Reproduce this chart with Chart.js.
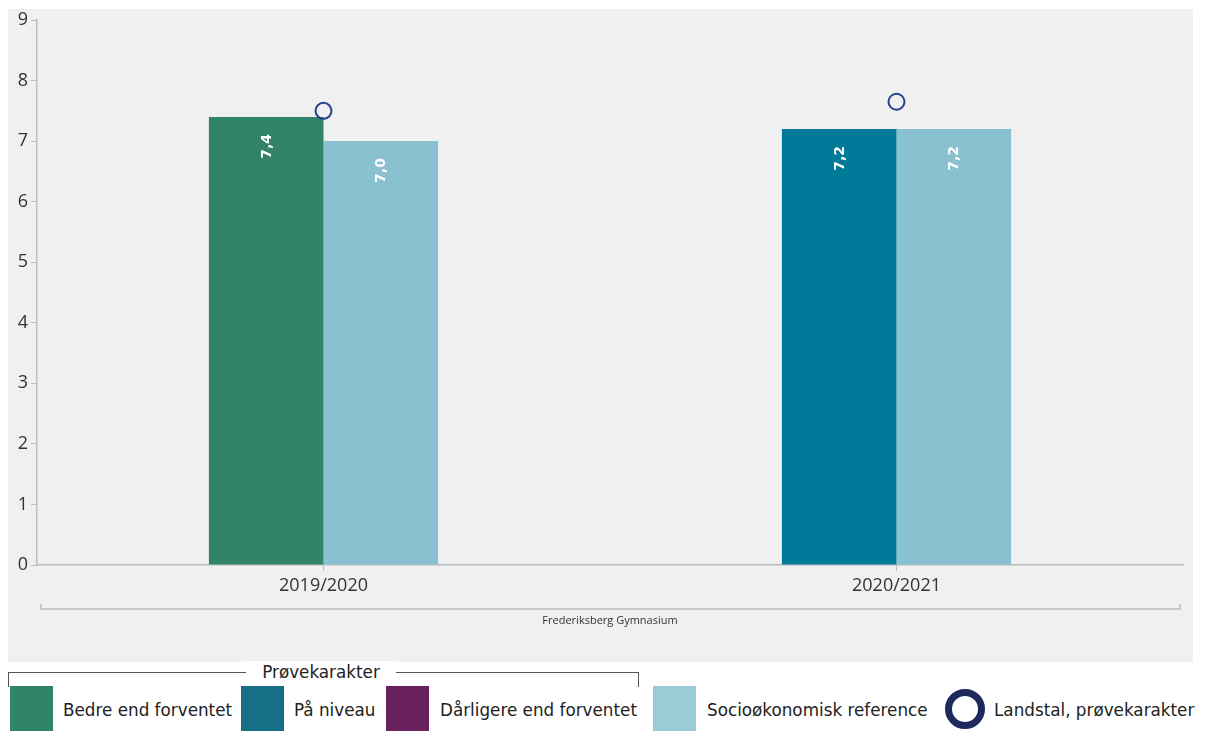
<!DOCTYPE html>
<html>
<head>
<meta charset="utf-8">
<script src="https://cdn.jsdelivr.net/npm/chart.js@4.4.1/dist/chart.umd.min.js"></script>
<style>
  body { margin: 0; background: #fff; width: 1209px; height: 731px; overflow: hidden; position: relative; font-family: "DejaVu Sans", Verdana, sans-serif; }
  #wrap { position: absolute; left: 0; top: 0; width: 1209px; height: 662px; }
  .box { position: absolute; top: 686px; width: 43px; height: 45px; }
  .txt { position: absolute; top: 699px; font-size: 16.8px; color: #222; line-height: 22px; white-space: nowrap; }
  #bracket { position: absolute; left: 8px; top: 672px; width: 629px; height: 14px; border: 1px solid #555; border-bottom: none; }
  #bracketLabel { position: absolute; left: 246px; top: 661px; width: 150px; text-align: center; background: #fff; font-size: 16.8px; color: #222; line-height: 22px; }
  #ring { position: absolute; left: 945px; top: 689px; width: 40px; height: 40px; border: 7px solid #1f2a5c; border-radius: 50%; box-sizing: border-box; }
</style>
</head>
<body>
<div id="wrap"><canvas id="chart" width="1209" height="662"></canvas></div>

<div id="bracket"></div>
<div id="bracketLabel">Prøvekarakter</div>
<div class="box" style="left:10px;background:#318469"></div>
<div class="txt" style="left:63px">Bedre end forventet</div>
<div class="box" style="left:241px;background:#166e87"></div>
<div class="txt" style="left:294px">På niveau</div>
<div class="box" style="left:386px;background:#68205f"></div>
<div class="txt" style="left:440px">Dårligere end forventet</div>
<div class="box" style="left:653px;background:#9ccbd8"></div>
<div class="txt" style="left:707px">Socioøkonomisk reference</div>
<div id="ring"></div>
<div class="txt" style="left:994px">Landstal, prøvekarakter</div>

<script>
// chart values
const years = ['2019/2020', '2020/2021'];
const bedre = [7.4, null];
const paaNiveau = [null, 7.2];
const daarligere = [null, null];
const socioRef = [7.0, 7.2];
const landstal = [7.5, 7.65];
const groupLabel = 'Frederiksberg Gymnasium';

// gray panel behind the plot
const panelBg = {
  id: 'panelBg',
  beforeDraw(chart) {
    const ctx = chart.ctx;
    ctx.save();
    ctx.fillStyle = '#f0f0f0';
    ctx.fillRect(8, 9, 1185, 653);
    ctx.restore();
  }
};

// rotated white value labels inside bars
const barLabels = {
  id: 'barLabels',
  afterDatasetsDraw(chart) {
    const ctx = chart.ctx;
    chart.data.datasets.forEach((ds, i) => {
      if (ds.type === 'line') return;
      const meta = chart.getDatasetMeta(i);
      meta.data.forEach((bar, j) => {
        const v = ds.data[j];
        if (v === null || v === undefined) return;
        ctx.save();
        ctx.translate(bar.x, bar.y + 17);
        ctx.rotate(-Math.PI / 2);
        ctx.font = 'bold 14px "DejaVu Sans", Verdana, sans-serif';
        ctx.fillStyle = '#fff';
        ctx.textAlign = 'right';
        ctx.textBaseline = 'middle';
        ctx.fillText(v.toFixed(1).replace('.', ','), 0, 1);
        ctx.restore();
      });
    });
  }
};

// bracket under the x labels with the school name
const groupBracket = {
  id: 'groupBracket',
  afterDraw(chart) {
    const ctx = chart.ctx;
    const a = chart.chartArea;
    const y = a.bottom + 44;
    ctx.save();
    ctx.strokeStyle = '#b9bcc0';
    ctx.lineWidth = 1.5;
    ctx.beginPath();
    ctx.moveTo(a.left + 4, y - 5);
    ctx.lineTo(a.left + 4, y);
    ctx.lineTo(a.right - 3, y);
    ctx.lineTo(a.right - 3, y - 5);
    ctx.stroke();
    ctx.font = '11px "Open Sans", "Noto Sans", sans-serif';
    ctx.fillStyle = '#333';
    ctx.textAlign = 'center';
    ctx.textBaseline = 'middle';
    ctx.fillText(groupLabel, (a.left + a.right) / 2, y + 12);
    ctx.restore();
  }
};

new Chart(document.getElementById('chart'), {
  type: 'bar',
  data: {
    labels: years,
    datasets: [
      {
        type: 'line', label: 'Landstal, prøvekarakter', data: landstal,
        showLine: false, pointStyle: 'circle', pointRadius: 8, pointHoverRadius: 8,
        pointBorderWidth: 2, pointBorderColor: '#24418f', pointBackgroundColor: 'rgba(0,0,0,0)'
      },
      { label: 'Bedre end forventet', data: bedre, backgroundColor: '#318369', stack: 'skole' },
      { label: 'På niveau', data: paaNiveau, backgroundColor: '#007a99', stack: 'skole' },
      { label: 'Dårligere end forventet', data: daarligere, backgroundColor: '#68205f', stack: 'skole' },
      { label: 'Socioøkonomisk reference', data: socioRef, backgroundColor: '#89c1d0', stack: 'ref' }
    ]
  },
  options: {
    responsive: false,
    animation: false,
    categoryPercentage: 0.4,
    barPercentage: 1,
    layout: { padding: { left: 8, right: 26, top: 20, bottom: 0 } },
    plugins: { legend: { display: false }, tooltip: { enabled: false } },
    scales: {
      x: {
        stacked: true,
        afterFit(scale) { scale.height = 97; },
        border: { color: '#b9bcc0', width: 1.5 },
        grid: { offset: false, drawOnChartArea: false, drawTicks: true, tickLength: 6, color: '#b9bcc0' },
        ticks: { color: '#333', padding: 4, font: { family: '"Open Sans", "Noto Sans", sans-serif', size: 18 } }
      },
      y: {
        stacked: false,
        min: 0, max: 9,
        afterFit(scale) { scale.width = 29; },
        border: { color: '#b9bcc0', width: 1.5 },
        grid: { drawOnChartArea: false, drawTicks: true, tickLength: 6, color: '#b9bcc0' },
        ticks: { stepSize: 1, color: '#333', padding: 3, font: { family: '"Open Sans", "Noto Sans", sans-serif', size: 18 } }
      }
    }
  },
  plugins: [panelBg, barLabels, groupBracket]
});
</script>
</body>
</html>
